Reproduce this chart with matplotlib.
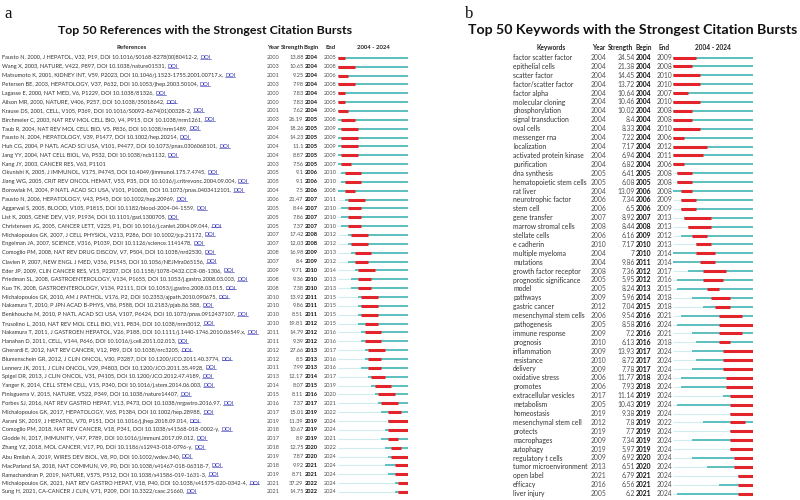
import matplotlib
matplotlib.use("Agg")
import matplotlib.pyplot as plt

plt.rcParams["font.family"] = ["Lato", "DejaVu Sans"]

REF_LABELS = [
    "Fausto N, 2000, J HEPATOL, V32, P19, DOI 10.1016/S0168-8278(00)80412-2, ",
    "Wang X, 2003, NATURE, V422, P897, DOI 10.1038/nature01531, ",
    "Matsumoto K, 2001, KIDNEY INT, V59, P2023, DOI 10.1046/j.1523-1755.2001.00717.x, ",
    "Petersen BE, 2003, HEPATOLOGY, V37, P632, DOI 10.1053/jhep.2003.50104, ",
    "Lagasse E, 2000, NAT MED, V6, P1229, DOI 10.1038/81326, ",
    "Alison MR, 2000, NATURE, V406, P257, DOI 10.1038/35018642, ",
    "Krause DS, 2001, CELL, V105, P369, DOI 10.1016/S0092-8674(01)00328-2, ",
    "Birchmeier C, 2003, NAT REV MOL CELL BIO, V4, P915, DOI 10.1038/nrm1261, ",
    "Taub R, 2004, NAT REV MOL CELL BIO, V5, P836, DOI 10.1038/nrm1489, ",
    "Fausto N, 2004, HEPATOLOGY, V39, P1477, DOI 10.1002/hep.20214, ",
    "Huh CG, 2004, P NATL ACAD SCI USA, V101, P4477, DOI 10.1073/pnas.0306068101, ",
    "Jang YY, 2004, NAT CELL BIOL, V6, P532, DOI 10.1038/ncb1132, ",
    "Kang JY, 2003, CANCER RES, V63, P1101",
    "Okunishi K, 2005, J IMMUNOL, V175, P4745, DOI 10.4049/jimmunol.175.7.4745, ",
    "Jiang WG, 2005, CRIT REV ONCOL HEMAT, V53, P35, DOI 10.1016/j.critrevonc.2004.09.004, ",
    "Borowiak M, 2004, P NATL ACAD SCI USA, V101, P10608, DOI 10.1073/pnas.0403412101, ",
    "Fausto N, 2006, HEPATOLOGY, V43, P545, DOI 10.1002/hep.20969, ",
    "Aggarwal S, 2005, BLOOD, V105, P1815, DOI 10.1182/blood-2004-04-1559, ",
    "List K, 2005, GENE DEV, V19, P1934, DOI 10.1101/gad.1300705, ",
    "Christensen JG, 2005, CANCER LETT, V225, P1, DOI 10.1016/j.canlet.2004.09.044, ",
    "Michalopoulos GK, 2007, J CELL PHYSIOL, V213, P286, DOI 10.1002/jcp.21172, ",
    "Engelman JA, 2007, SCIENCE, V316, P1039, DOI 10.1126/science.1141478, ",
    "Comoglio PM, 2008, NAT REV DRUG DISCOV, V7, P504, DOI 10.1038/nrd2530, ",
    "Clavien P, 2007, NEW ENGL J MED, V356, P1545, DOI 10.1056/NEJMra065156, ",
    "Eder JP, 2009, CLIN CANCER RES, V15, P2207, DOI 10.1158/1078-0432.CCR-08-1306, ",
    "Friedman SL, 2008, GASTROENTEROLOGY, V134, P1655, DOI 10.1053/j.gastro.2008.03.003, ",
    "Kuo TK, 2008, GASTROENTEROLOGY, V134, P2111, DOI 10.1053/j.gastro.2008.03.015, ",
    "Michalopoulos GK, 2010, AM J PATHOL, V176, P2, DOI 10.2353/ajpath.2010.090675, ",
    "Nakamura T, 2010, P JPN ACAD B-PHYS, V86, P588, DOI 10.2183/pjab.86.588, ",
    "Benkhoucha M, 2010, P NATL ACAD SCI USA, V107, P6424, DOI 10.1073/pnas.0912437107, ",
    "Trusolino L, 2010, NAT REV MOL CELL BIO, V11, P834, DOI 10.1038/nrm3012, ",
    "Nakamura T, 2011, J GASTROEN HEPATOL, V26, P188, DOI 10.1111/j.1440-1746.2010.06549.x, ",
    "Hanahan D, 2011, CELL, V144, P646, DOI 10.1016/j.cell.2011.02.013, ",
    "Gherardi E, 2012, NAT REV CANCER, V12, P89, DOI 10.1038/nrc3205, ",
    "Blumenschein GR, 2012, J CLIN ONCOL, V30, P3287, DOI 10.1200/JCO.2011.40.3774, ",
    "Lennerz JK, 2011, J CLIN ONCOL, V29, P4803, DOI 10.1200/JCO.2011.35.4928, ",
    "Spigel DR, 2013, J CLIN ONCOL, V31, P4105, DOI 10.1200/JCO.2012.47.4189, ",
    "Yanger K, 2014, CELL STEM CELL, V15, P340, DOI 10.1016/j.stem.2014.06.003, ",
    "Finisguerra V, 2015, NATURE, V522, P349, DOI 10.1038/nature14407, ",
    "Forbes SJ, 2016, NAT REV GASTRO HEPAT, V13, P473, DOI 10.1038/nrgastro.2016.97, ",
    "Michalopoulos GK, 2017, HEPATOLOGY, V65, P1384, DOI 10.1002/hep.28988, ",
    "Asrani SK, 2019, J HEPATOL, V70, P151, DOI 10.1016/j.jhep.2018.09.014, ",
    "Comoglio PM, 2018, NAT REV CANCER, V18, P341, DOI 10.1038/s41568-018-0002-y, ",
    "Glodde N, 2017, IMMUNITY, V47, P789, DOI 10.1016/j.immuni.2017.09.012, ",
    "Zhang YZ, 2018, MOL CANCER, V17, P0, DOI 10.1186/s12943-018-0796-y, ",
    "Abu Rmilah A, 2019, WIRES DEV BIOL, V8, P0, DOI 10.1002/wdev.340, ",
    "MacParland SA, 2018, NAT COMMUN, V9, P0, DOI 10.1038/s41467-018-06318-7, ",
    "Ramachandran P, 2019, NATURE, V575, P512, DOI 10.1038/s41586-019-1631-3, ",
    "Michalopoulos GK, 2021, NAT REV GASTRO HEPAT, V18, P40, DOI 10.1038/s41575-020-0342-4, ",
    "Sung H, 2021, CA-CANCER J CLIN, V71, P209, DOI 10.3322/caac.21660, ",
]
REF_YEAR = [2000, 2003, 2001, 2003, 2000, 2000, 2001, 2003, 2004, 2004,
            2004, 2004, 2003, 2005, 2005, 2004, 2006, 2005, 2005, 2005,
            2007, 2007, 2008, 2007, 2009, 2008, 2008, 2010, 2010, 2010,
            2010, 2011, 2011, 2012, 2012, 2011, 2013, 2014, 2015, 2016,
            2017, 2019, 2018, 2017, 2018, 2019, 2018, 2019, 2021, 2021]
REF_STRENGTH = [13.88, 10.65, 9.25, 7.98, 7.83, 7.83, 7.62, 26.19, 18.26, 14.23,
                11.1, 8.87, 7.56, 9.1, 9.1, 7.5, 21.47, 8.44, 7.86, 7.37,
                17.42, 12.03, 16.98, 8.4, 9.71, 9.36, 7.38, 13.92, 9.86, 8.51,
                19.81, 14.79, 9.39, 27.66, 8.5, 7.99, 12.17, 8.07, 8.11, 7.37,
                15.01, 11.39, 10.67, 8.9, 12.75, 7.87, 9.92, 8.71, 37.29, 14.75]
REF_BEGIN = [2004, 2004, 2004, 2004, 2004, 2004, 2004, 2005, 2005, 2005,
             2005, 2005, 2005, 2006, 2006, 2006, 2007, 2007, 2007, 2007,
             2008, 2008, 2009, 2009, 2010, 2010, 2010, 2011, 2011, 2011,
             2012, 2012, 2012, 2013, 2013, 2013, 2014, 2015, 2016, 2017,
             2019, 2019, 2019, 2019, 2020, 2020, 2021, 2021, 2022, 2022]
REF_END = [2005, 2008, 2006, 2008, 2005, 2005, 2006, 2008, 2009, 2009,
           2009, 2009, 2007, 2010, 2010, 2008, 2011, 2010, 2010, 2010,
           2012, 2012, 2013, 2012, 2014, 2013, 2013, 2015, 2015, 2015,
           2015, 2016, 2016, 2017, 2016, 2016, 2017, 2019, 2020, 2021,
           2022, 2024, 2024, 2021, 2022, 2024, 2024, 2024, 2024, 2024]

KW_LABELS = [
    "factor scatter factor", "epithelial cells", "scatter factor", "factor/scatter factor",
    "factor alpha", "molecular cloning", "phosphorylation", "signal transduction",
    "oval cells", "messenger rna", "localization", "activated protein kinase",
    "purification", "dna synthesis", "hematopoietic stem cells", "rat liver",
    "neurotrophic factor", "stem cell", "gene transfer", "marrow stromal cells",
    "stellate cells", "e cadherin", "multiple myeloma", "mutations",
    "growth factor receptor", "prognostic significance", "model", "pathways",
    "gastric cancer", "mesenchymal stem cells", "pathogenesis", "immune response",
    "prognosis", "inflammation", "resistance", "delivery",
    "oxidative stress", "promotes", "extracellular vesicles", "metabolism",
    "homeostasis", "mesenchymal stem cell", "protects", "macrophages",
    "autophagy", "regulatory t cells", "tumor microenvironment", "open label",
    "efficacy", "liver injury",
]
KW_YEAR = [2004, 2004, 2004, 2004, 2004, 2004, 2004, 2004, 2004, 2004,
           2004, 2004, 2004, 2005, 2005, 2004, 2006, 2006, 2007, 2008,
           2006, 2010, 2004, 2004, 2008, 2005, 2005, 2009, 2012, 2006,
           2005, 2009, 2010, 2009, 2010, 2009, 2006, 2006, 2017, 2005,
           2019, 2012, 2019, 2009, 2019, 2009, 2013, 2021, 2016, 2005]
KW_STRENGTH = [24.54, 21.38, 14.45, 13.72, 10.64, 10.46, 10.02, 8.4, 8.33, 7.22,
               7.17, 6.94, 6.82, 6.41, 6.08, 13.09, 7.34, 6.5, 8.92, 8.44,
               6.16, 7.17, 7, 9.86, 7.36, 5.95, 8.24, 5.96, 7.04, 9.54,
               8.58, 7.2, 6.13, 13.93, 8.72, 7.78, 11.77, 7.93, 11.14, 10.43,
               9.38, 7.8, 7.7, 7.34, 5.97, 6.92, 6.51, 6.79, 6.56, 6.2]
KW_BEGIN = [2004, 2004, 2004, 2004, 2004, 2004, 2004, 2004, 2004, 2004,
            2004, 2004, 2004, 2005, 2005, 2006, 2006, 2006, 2007, 2008,
            2009, 2010, 2010, 2011, 2012, 2012, 2013, 2014, 2015, 2016,
            2016, 2016, 2016, 2017, 2017, 2017, 2018, 2018, 2019, 2019,
            2019, 2019, 2019, 2019, 2019, 2020, 2020, 2021, 2021, 2021]
KW_END = [2009, 2008, 2010, 2010, 2007, 2010, 2008, 2008, 2010, 2006,
          2012, 2011, 2006, 2008, 2008, 2008, 2009, 2009, 2013, 2013,
          2012, 2013, 2014, 2014, 2017, 2016, 2015, 2018, 2018, 2021,
          2024, 2021, 2018, 2024, 2024, 2024, 2024, 2024, 2024, 2024,
          2024, 2022, 2024, 2024, 2024, 2024, 2024, 2024, 2024, 2024]

START, STOP = 2004, 2024

# ── Style ─────────────────────────────────────────────────────────────────────
RED = "#e3242b"
TEAL = "#5cbfbe"
FAINT = "#d0ecec"
TXT = "#333333"
NUM = "#505050"
LINK = "#3030b4"

W, H = 800, 500
fig = plt.figure(figsize=(8, 5), dpi=100)
bg = fig.add_axes([0, 0, 1, 1])
bg.set_xlim(0, W)
bg.set_ylim(H, 0)
bg.axis("off")


def px_axes(x0, x1, y0, y1):
    # axes placed by pixel box (top-left origin)
    ax = fig.add_axes([x0 / W, 1 - y1 / H, (x1 - x0) / W, (y1 - y0) / H])
    ax.axis("off")
    return ax


PANELS = [
    dict(letter="a", lx=4, title="Top 50 References with the Strongest Citation Bursts",
         tx=205, tsize=8.9, head="References", hx=132,
         labels=REF_LABELS, year=REF_YEAR, strength=REF_STRENGTH, begin=REF_BEGIN, end=REF_END,
         text_x=2.5, fs=4.1, hfs=4.3,
         year_x=273, str_x=303.5, shx=292, beg_x=311.5, end_x=330.5,
         bar=(338, 408), row0=57.8, rowh=8.86),
    dict(letter="b", lx=465, title="Top 50 Keywords with the Strongest Citation Bursts",
         tx=633, tsize=10.2, head="Keywords", hx=551,
         labels=KW_LABELS, year=KW_YEAR, strength=KW_STRENGTH, begin=KW_BEGIN, end=KW_END,
         text_x=513, fs=4.9, hfs=4.7,
         year_x=598.5, str_x=635, shx=621, beg_x=644, end_x=664.5,
         bar=(673, 753), row0=57.5, rowh=8.9),
]

ref_texts = []
for p in PANELS:
    n = len(p["labels"])
    top = p["row0"] - p["rowh"] / 2
    bot = p["row0"] + (n - 0.5) * p["rowh"]

    bg.text(p["lx"], 14, p["letter"], family="Liberation Serif", fontsize=12,
            ha="left", va="center", color="#111111")
    bg.text(p["tx"], 30, p["title"], fontsize=p["tsize"], fontweight="bold",
            ha="center", va="center", color="#111111")

    # column header row
    hy = p["row0"] - p["rowh"] - 1
    hkw = dict(fontsize=p["hfs"], fontweight="bold", va="center", color="#222222")
    bg.text(p["hx"], hy, p["head"], ha="center", **hkw)
    bg.text(p["year_x"], hy, "Year", ha="center", **hkw)
    bg.text(p["shx"], hy, "Strength", ha="center", **hkw)
    bg.text(p["beg_x"], hy, "Begin", ha="center", **hkw)
    bg.text(p["end_x"], hy, "End", ha="center", **hkw)
    bg.text(sum(p["bar"]) / 2, hy, f"{START} - {STOP}", ha="center", **hkw)

    # table rows on a row-indexed axes
    tab = px_axes(0, W, top, bot)
    tab.set_xlim(0, W)
    tab.set_ylim(n - 0.5, -0.5)
    for i in range(n):
        t = tab.text(p["text_x"], i, p["labels"][i], fontsize=p["fs"], ha="left",
                     va="center", color=TXT)
        if "DOI" in p["labels"][i]:
            ref_texts.append((tab, t, i, p["fs"]))
        tab.text(p["year_x"], i, str(p["year"][i]), fontsize=p["fs"], ha="center",
                 va="center", color=NUM)
        tab.text(p["str_x"], i, f"{p['strength'][i]:g}", fontsize=p["fs"], ha="right",
                 va="center", color=NUM)
        tab.text(p["beg_x"], i, str(p["begin"][i]), fontsize=p["fs"], ha="center",
                 va="center", color="#111111", fontweight="bold")
        tab.text(p["end_x"], i, str(p["end"][i]), fontsize=p["fs"], ha="center",
                 va="center", color=NUM)

    # burst strips: faint before publication, teal after, red during burst
    bax = px_axes(p["bar"][0], p["bar"][1], top, bot)
    bax.set_xlim(START, STOP + 1)
    bax.set_ylim(n - 0.5, -0.5)
    for i in range(n):
        y0 = max(p["year"][i], START)
        if y0 > START:
            bax.hlines(i, START, y0, color=FAINT, lw=0.8)
        bax.hlines(i, y0, STOP + 1, color=TEAL, lw=1.4)
        bax.hlines(i, p["begin"][i], p["end"][i] + 1, color=RED, lw=2.2)

# "DOI" links after each reference, underlined
fig.canvas.draw()
rend = fig.canvas.get_renderer()
for tab, t, i, fs in ref_texts:
    bb = t.get_window_extent(rend)
    x = tab.transData.inverted().transform((bb.x1, bb.y0))[0]
    d = tab.text(x, i, "DOI", fontsize=fs, ha="left", va="center", color=LINK)
    db = d.get_window_extent(rend)
    (ux0, uy), (ux1, _) = bg.transData.inverted().transform([(db.x0, db.y0 + 1.2), (db.x1, db.y0)])
    bg.plot([ux0, ux1], [uy, uy], color=LINK, lw=0.4)

fig.savefig("out.png", dpi=100)
